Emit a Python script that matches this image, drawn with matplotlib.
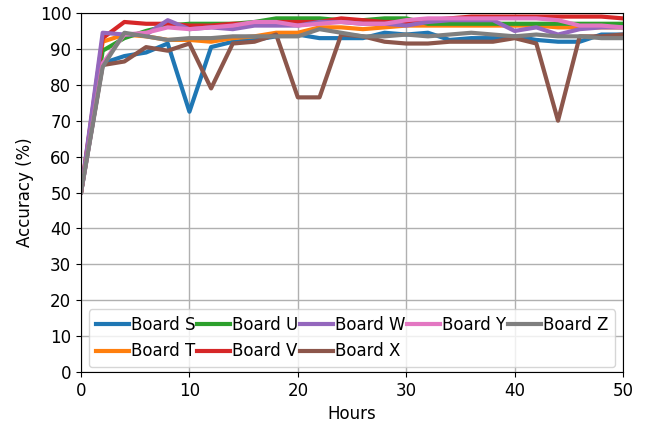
import numpy as np
import matplotlib
matplotlib.use("Agg")
import matplotlib.pyplot as plt

hours = np.arange(0, 51, 2)

board_s = [50, 86, 88, 89, 91.5, 72.5, 90.5, 92, 92.5, 93.5, 94, 93, 93, 93, 94.5, 94,
           94.5, 92.5, 93, 93, 93.5, 92.5, 92, 92, 94, 94]
board_t = [50, 92, 94, 93.5, 92.5, 92.5, 92, 93, 93.5, 94.5, 94.5, 96, 96, 95.5, 96, 96.5,
           96.5, 96.5, 96.5, 96.5, 96.5, 96.5, 96, 96, 96, 96]
board_u = [50, 89.5, 93, 95, 96.5, 97, 97, 97, 97.5, 98.5, 98.5, 98.5, 98, 98, 98.5, 98.5,
           97, 97, 97, 97, 97, 97, 97, 97, 97, 97]
board_v = [50, 93, 97.5, 97, 97, 96.5, 96.5, 97, 97, 97.5, 97.5, 97.5, 98.5, 98, 97.5, 97.5,
           98, 98.5, 99, 99, 99, 99, 99, 99, 99, 98.5]
board_w = [50, 94.5, 94, 94, 98, 95.5, 96, 95.5, 96.5, 96.5, 96.5, 97.5, 97.5, 97, 97, 96.5,
           97.5, 98, 98, 98, 95, 96, 94, 95.5, 96, 96]
board_x = [50, 85.5, 86.5, 90.5, 89.5, 91.5, 79, 91.5, 92, 94, 76.5, 76.5, 94, 93.5, 92, 91.5,
           91.5, 92, 92, 92, 93, 91.5, 70, 93.5, 93.5, 94]
board_y = [50, 86, 94, 94.5, 96, 95.5, 96, 96.5, 97.5, 97.5, 96.5, 97, 97.5, 97, 97, 98,
           98.5, 98.5, 98.5, 98.5, 98.5, 98.5, 98, 96.5, 96.5, 96]
board_z = [50, 85, 94.5, 93.5, 92.5, 93, 93, 93.5, 93.5, 93.5, 93.5, 95.5, 94.5, 93.5, 93.5, 94,
           93.5, 94, 94.5, 94, 93.5, 94, 93.5, 93.5, 93, 93]

series = [("Board S", board_s), ("Board T", board_t), ("Board U", board_u),
          ("Board V", board_v), ("Board W", board_w), ("Board X", board_x),
          ("Board Y", board_y), ("Board Z", board_z)]

plt.rcParams['font.size'] = 12
fig = plt.figure(figsize=(6.45, 4.25), dpi=100)
ax = fig.add_axes([0.1256, 0.1247, 0.8404, 0.8447])

for name, vals in series:
    ax.plot(hours, vals, linewidth=3, label=name)

ax.set_xlim(0, 50)
ax.set_ylim(0, 100)
ax.set_yticks(np.arange(0, 101, 10))
ax.grid(True, color="#b0b0b0", linewidth=1)
ax.set_xlabel("Hours")
ax.set_ylabel("Accuracy (%)")
ax.legend(loc="lower center", ncol=5, columnspacing=0.1, handletextpad=0.1,
          handlelength=2.0, borderaxespad=0.3)

fig.savefig("out.png", dpi=100)
